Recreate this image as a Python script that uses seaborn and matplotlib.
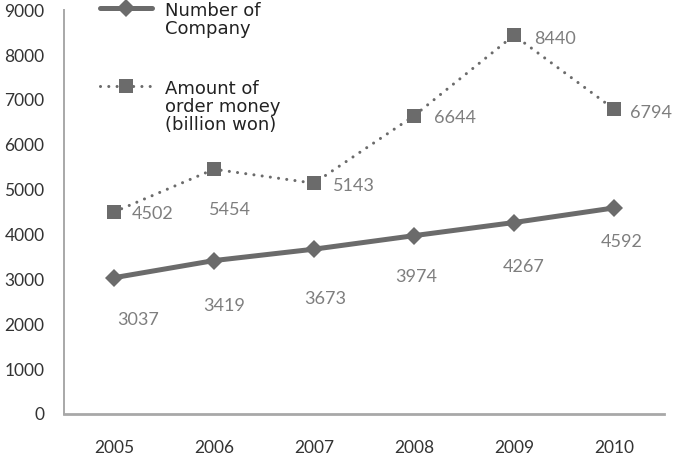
import pandas as pd
import seaborn as sns
import matplotlib.pyplot as plt

# ------------------------------------------------------------
# Number of companies vs. amount of order money, 2005-2010
# ------------------------------------------------------------

YEARS = [2005, 2006, 2007, 2008, 2009, 2010]
N_COMPANY = [3037, 3419, 3673, 3974, 4267, 4592]
ORDER_MONEY = [4502, 5454, 5143, 6644, 8440, 6794]

LABEL_COMPANY = "Number of\nCompany"
LABEL_MONEY = "Amount of\norder money\n(billion won)"

# label offsets in pixels (dx, dy), hand placed like the original
OFF_COMPANY = [(24, -42), (10, -45), (11, -50), (2, -41), (10, -44), (8, -34)]
OFF_MONEY = [(39, -2), (16, -41), (40, -3), (41, -2), (41, -4), (37, -4)]

C_LINE = "#6b6b6b"
C_LABEL = "#7e7e7e"
C_TICK = "#333333"
C_SPINE = "#a8a8a8"

sns.set_theme(style="white")
plt.rcParams["font.family"] = ["Lato", "DejaVu Sans"]


def main():
    df = pd.DataFrame({"Year": YEARS, "Company": N_COMPANY, "Money": ORDER_MONEY})

    fig = plt.figure(figsize=(6.73, 4.61), dpi=100)
    ax = fig.add_axes([0.0951, 0.102, 0.8915, 0.876])

    sns.lineplot(
        data=df, x="Year", y="Company", ax=ax,
        color=C_LINE, linewidth=3.6, marker="D", markersize=9.5,
        markeredgewidth=0, label=LABEL_COMPANY,
    )
    sns.lineplot(
        data=df, x="Year", y="Money", ax=ax,
        color=C_LINE, linewidth=2.2, linestyle=(0, (0.01, 2.7)),
        dash_capstyle="round", marker="s", markersize=10.5,
        markeredgewidth=0, label=LABEL_MONEY,
    )

    for x, v, (dx, dy) in zip(YEARS, N_COMPANY, OFF_COMPANY):
        ax.annotate(str(v), (x, v), xytext=(dx, dy), textcoords="offset pixels",
                    ha="center", va="center", fontsize=13, color=C_LABEL)
    for x, v, (dx, dy) in zip(YEARS, ORDER_MONEY, OFF_MONEY):
        ax.annotate(str(v), (x, v), xytext=(dx, dy), textcoords="offset pixels",
                    ha="center", va="center", fontsize=13, color=C_LABEL)

    ax.set_xlim(2004.5, 2010.5)
    ax.set_ylim(0, 9000)
    ax.set_xticks(YEARS)
    ax.set_xticklabels([str(y) for y in YEARS])
    ax.set_yticks(range(0, 9001, 1000))
    ax.set_xlabel("")
    ax.set_ylabel("")
    ax.tick_params(axis="both", length=0, labelsize=12.5, colors=C_TICK)
    ax.tick_params(axis="x", pad=19)
    ax.tick_params(axis="y", pad=14)

    for side in ["top", "right"]:
        ax.spines[side].set_visible(False)
    ax.spines["left"].set_color(C_SPINE)
    ax.spines["left"].set_linewidth(1.4)
    ax.spines["bottom"].set_color(C_SPINE)
    ax.spines["bottom"].set_linewidth(2.0)

    handles, labels = ax.get_legend_handles_labels()
    leg = ax.legend(
        handles, labels,
        loc="upper left",
        bbox_to_anchor=(100 / 673, 1 - 2 / 461),
        bbox_transform=fig.transFigure,
        frameon=False,
        borderpad=0, borderaxespad=0,
        handlelength=2.9, handletextpad=0.7,
        labelspacing=2.3,
        prop={"family": "DejaVu Sans", "size": 13},
    )
    for t in leg.get_texts():
        t.set_linespacing(1.0)
        t.set_color("#222222")
    # keep each marker level with the first line of its label
    for col in leg._legend_handle_box.get_children():
        for row in col.get_children():
            row.align = "top"

    fig.savefig("out.png", dpi=100)
    plt.close(fig)


if __name__ == "__main__":
    main()
